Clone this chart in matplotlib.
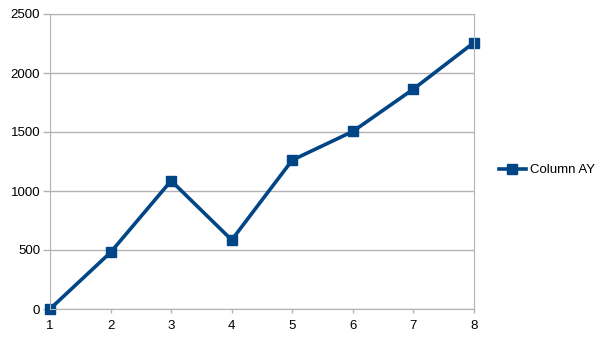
import matplotlib
matplotlib.use('Agg')
import matplotlib.pyplot as plt

plt.rc('font', family='Liberation Sans', size=9.5)

x = [1, 2, 3, 4, 5, 6, 7, 8]
col_ay = [0, 480, 1087, 585, 1262, 1505, 1864, 2258]
yticks = [0, 500, 1000, 1500, 2000, 2500]

fig = plt.figure(figsize=(6.05, 3.4), dpi=100)
ax = fig.add_axes([50/605, 31/340, 424/605, 295/340])

ax.plot(x, col_ay, color='#004586', lw=2.6, marker='s', ms=7, label='Column AY')

ax.set_xlim(1, 8)
ax.set_ylim(0, 2500)
ax.set_xticks(x)
ax.set_yticks(yticks)
ax.grid(axis='y', color='#b3b3b3', lw=1)
ax.set_axisbelow(True)
for s in ax.spines.values():
    s.set_color('#b3b3b3')
ax.tick_params(axis='x', color='#b3b3b3', length=3, width=1, pad=5)
ax.tick_params(axis='y', color='#b3b3b3', length=5, width=1, pad=2)

for p in ax.lines:
    p.set_clip_on(False)

fig.legend(loc='center left', bbox_to_anchor=(494/605, 0.5), frameon=False,
           handlelength=2.0, handletextpad=0.3, borderaxespad=0)

fig.savefig('out.png', dpi=100)
